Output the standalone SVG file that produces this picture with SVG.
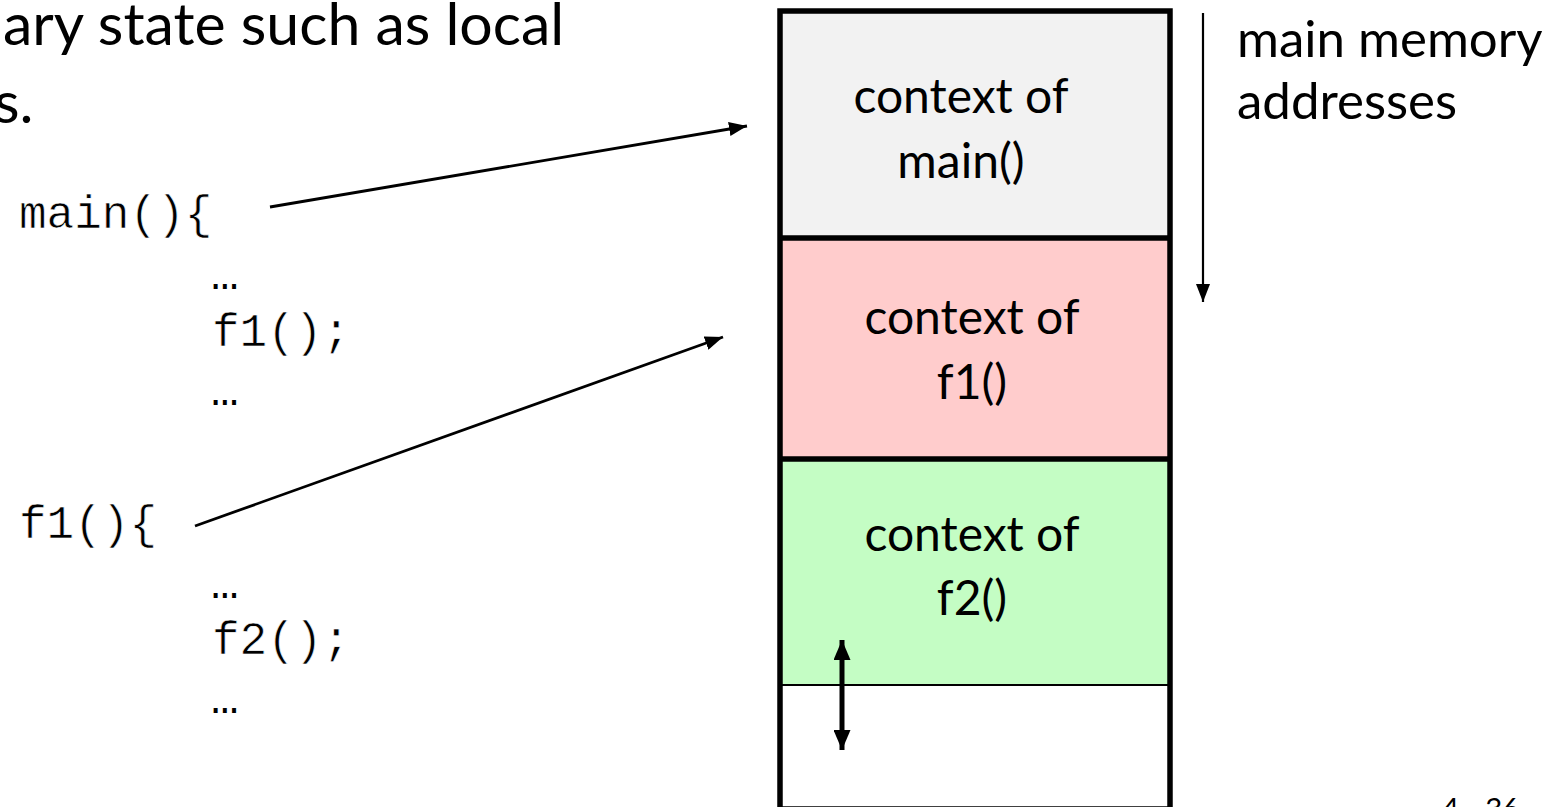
<svg xmlns="http://www.w3.org/2000/svg" width="1557" height="807" viewBox="0 0 1557 807">
  <defs>
    <style>
      .sans { font-family: Lato, "Open Sans", "Liberation Sans", sans-serif; fill: #000; }
      .box-text { font-size: 48px; text-anchor: middle; }
      .code { font-family: "Liberation Mono", "DejaVu Sans Mono", monospace; font-size: 46px; fill: #000; stroke: #fff; stroke-width: 0.6; }
      .dots { font-family: "Liberation Mono", "DejaVu Sans Mono", monospace; font-size: 46px; fill: #000; }
      .conn { stroke: #000; stroke-width: 2.8; fill: none; }
      .frame { stroke: #000; stroke-width: 5.5; }
    </style>
    <marker id="arrow" viewBox="0 0 18 14" refX="18" refY="7" markerWidth="18" markerHeight="14" markerUnits="userSpaceOnUse" orient="auto">
      <path d="M0,0 L18,7 L0,14 Z" fill="#000"/>
    </marker>
    <marker id="arrowSmall" viewBox="0 0 18 14" refX="18" refY="7" markerWidth="18" markerHeight="14" markerUnits="userSpaceOnUse" orient="auto">
      <path d="M0,0 L18,7 L0,14 Z" fill="#000"/>
    </marker>
    <marker id="arrowBold" viewBox="0 0 20 17" refX="20" refY="8.5" markerWidth="20" markerHeight="17" markerUnits="userSpaceOnUse" orient="auto-start-reverse">
      <path d="M0,0 L20,8.5 L0,17 Z" fill="#000"/>
    </marker>
  </defs>

  <rect x="0" y="0" width="1557" height="807" fill="#fff"/>

  <g id="heading">
    <text class="sans" x="3" y="45" font-size="59">ary state such as local</text>
    <text class="sans" x="-6" y="123" font-size="59">s.</text>
  </g>

  <g id="code-main">
    <text class="code" x="19" y="228">main(){</text>
    <text class="dots" x="211" y="289">…</text>
    <text class="code" x="212" y="346">f1();</text>
    <text class="dots" x="211" y="405">…</text>
  </g>

  <g id="code-f1">
    <text class="code" x="19" y="538">f1(){</text>
    <text class="dots" x="211" y="598">…</text>
    <text class="code" x="212" y="654">f2();</text>
    <text class="dots" x="211" y="713">…</text>
  </g>

  <g id="stack">
    <g id="ctx-main">
      <rect x="780" y="11" width="390" height="227" fill="#f2f2f2"/>
      <text class="sans box-text" x="961" y="113">context of</text>
      <text class="sans box-text" x="961" y="178">main()</text>
    </g>
    <g id="ctx-f1">
      <rect x="780" y="238" width="390" height="221" fill="#ffcccc"/>
      <text class="sans box-text" x="972" y="334">context of</text>
      <text class="sans box-text" x="972" y="399">f1()</text>
    </g>
    <g id="ctx-f2">
      <rect x="780" y="459" width="390" height="226" fill="#c4fdc4"/>
      <text class="sans box-text" x="972" y="551">context of</text>
      <text class="sans box-text" x="972" y="615">f2()</text>
    </g>
    <g id="free">
      <rect x="780" y="685" width="390" height="124" fill="#fff"/>
    </g>
    <line x1="780" y1="685" x2="1170" y2="685" stroke="#000" stroke-width="2"/>
    <line class="frame" x1="780" y1="238" x2="1170" y2="238"/>
    <line class="frame" x1="780" y1="459" x2="1170" y2="459"/>
    <rect class="frame" x="780" y="11" width="390" height="798" fill="none"/>
  </g>

  <g id="addr-label">
    <text class="sans" x="1237" y="57" font-size="51">main memory</text>
    <text class="sans" x="1237" y="119" font-size="51">addresses</text>
  </g>

  <g id="page-number">
    <text class="sans" x="1442" y="819" font-size="29.5">4 - 36</text>
  </g>

  <g id="connectors">
    <line class="conn" x1="270" y1="207" x2="747" y2="126" marker-end="url(#arrow)"/>
    <line class="conn" x1="195" y1="526" x2="723" y2="337" marker-end="url(#arrow)"/>
    <line x1="1203" y1="13" x2="1203" y2="302" stroke="#000" stroke-width="2.2" marker-end="url(#arrowSmall)"/>
    <line x1="842" y1="640" x2="842" y2="750" stroke="#000" stroke-width="5" marker-start="url(#arrowBold)" marker-end="url(#arrowBold)"/>
  </g>
</svg>
